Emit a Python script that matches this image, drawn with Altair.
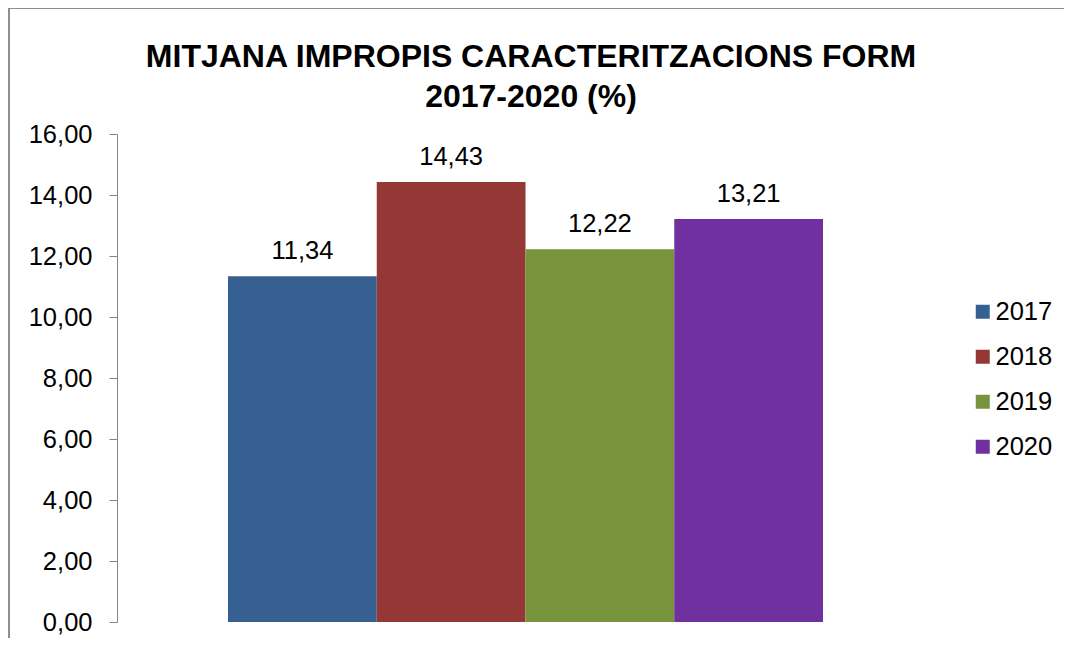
import altair as alt
import pandas as pd

years = ["2017", "2018", "2019", "2020"]
values = [11.34, 14.43, 12.22, 13.21]
colors = ["#376092", "#953735", "#77933C", "#7030A0"]
y_ticks = [0, 2, 4, 6, 8, 10, 12, 14, 16]
title_lines = ["MITJANA IMPROPIS CARACTERITZACIONS FORM", "2017-2020 (%)"]

df = pd.DataFrame({"year": years, "value": values})

FONT = "Liberation Sans"
GRAY = "#868686"
W, H = 1055, 628
PR, PB = 0, 2

x = alt.X("year:N", axis=None, sort=years,
          scale=alt.Scale(range=[219, 814], paddingInner=0, paddingOuter=0))
y = alt.Y("value:Q",
          scale=alt.Scale(domain=[0, 16], range=[614, 126], nice=False, zero=True),
          axis=alt.Axis(values=y_ticks, title=None, grid=False, offset=-108,
                        labelExpr="replace(format(datum.value, '.2f'), '.', ',')",
                        labelFont=FONT, labelFontSize=25.5, labelColor="black",
                        labelPadding=17, tickSize=8, tickColor=GRAY, domainColor=GRAY,
                        labelAlign="right", labelBaseline="middle"))

bars = alt.Chart(df).mark_bar(size=148.75).encode(
    x=x, y=y,
    color=alt.Color("year:N",
                    scale=alt.Scale(domain=years, range=colors),
                    legend=alt.Legend(title=None, orient="none", legendX=961, legendY=291,
                                      symbolType="square", symbolSize=196,
                                      symbolStrokeWidth=0, labelFont=FONT,
                                      labelFontSize=25.5, labelColor="black",
                                      rowPadding=18, labelOffset=0, padding=0)),
)

labels = alt.Chart(df).transform_calculate(
    label="replace(format(datum.value, '.2f'), '.', ',')"
).mark_text(dy=-17, baseline="alphabetic", align="center", font=FONT,
            fontSize=25.5, color="black").encode(
    x=x, y=y, text="label:N"
)

border_top = alt.Chart(df).mark_rule(color=GRAY, strokeWidth=1).encode(
    x=alt.value(0), x2=alt.value(W + PR), y=alt.value(0))
border_left = alt.Chart(df).mark_rule(color=GRAY, strokeWidth=1).encode(
    x=alt.value(0), y=alt.value(0), y2=alt.value(H + PB))

chart = alt.layer(border_top, border_left, bars, labels).properties(
    width=W, height=H,
    autosize=alt.AutoSizeParams(type="none"),
    padding={"left": 1, "top": 0, "right": PR, "bottom": PB},
    title=alt.Title(title_lines, font=FONT, fontSize=32, fontWeight="bold",
                    color="black", anchor="middle", baseline="top",
                    lineHeight=40, offset=0, dy=106, dx=-5.5),
).configure_view(stroke=None)

chart.save("out.html", embed_options={"renderer": "svg", "actions": False})
